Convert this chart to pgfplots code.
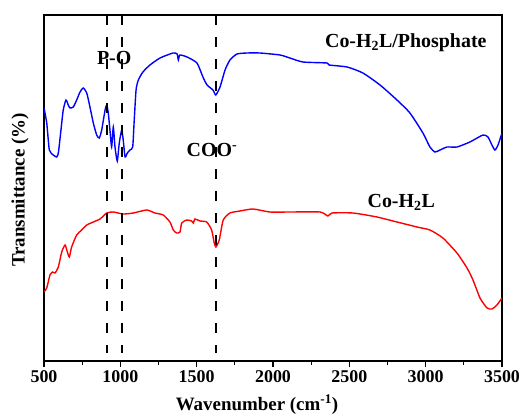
\documentclass[border=0pt]{standalone}
\usepackage{fontspec}
\setmainfont{Liberation Serif}
\usepackage{pgfplots}
\pgfplotsset{compat=1.18}

% traced spectra, y is the pixel row of the reference (axis uses y dir=reverse)
\pgfplotstableread{
w y
500 108
518 123
535 150
561 155
583 157
594 153
609 133
626 110
644 100
659 105
670 108
692 107
714 100
736 92
757 88
780 93
801 107
823 123
845 135
862 138
878 130
900 110
911 105
921 113
932 130
943 147
954 127
965 147
980 161
993 143
1009 130
1019 140
1031 157
1046 153
1063 150
1081 147
1090 123
1103 90
1118 80
1148 72
1194 65
1260 58
1345 53
1372 54
1380 60
1390 55
1437 57
1502 63
1541 77
1568 85
1607 90
1625 95
1653 87
1686 70
1718 60
1764 54
1830 53
1915 53
2046 55
2111 58
2196 62
2354 63
2367 65
2485 67
2589 73
2701 85
2812 100
2897 113
2982 133
3028 147
3061 152
3094 150
3140 147
3205 147
3290 142
3375 135
3408 137
3434 145
3454 150
3474 145
3500 133
}\phosphate

\pgfplotstableread{
w y
500 292
518 288
539 275
557 272
572 273
594 267
616 252
638 245
653 252
666 257
681 247
714 235
747 230
780 225
823 222
867 219
911 213
954 212
1019 214
1085 213
1173 210
1227 213
1281 215
1325 222
1347 230
1369 233
1391 232
1402 223
1435 220
1467 221
1478 223
1489 219
1522 221
1566 222
1598 230
1615 243
1626 247
1648 240
1674 220
1718 213
1784 211
1869 209
1980 212
2111 212
2308 212
2360 216
2386 213
2524 213
2681 217
2812 222
2943 227
3028 230
3113 238
3205 253
3271 268
3310 280
3356 298
3402 308
3434 309
3467 305
3500 298
}\ligand

\begin{document}
\begin{tikzpicture}
\useasboundingbox (-44bp,-55bp) rectangle (478bp,361bp);
\begin{axis}[
    scale only axis,
    width=458bp, height=346bp,
    xmin=500, xmax=3500,
    ymin=15, ymax=361, y dir=reverse,
    xtick={500,1000,...,3500},
    minor x tick num=1,
    ytick=\empty,
    xtick pos=bottom,
    tick align=outside,
    major tick length=6bp, minor tick length=4bp,
    axis line style={line width=1.2bp},
    every tick/.style={black, line width=1.2bp},
    /pgf/number format/assume math mode=true,
    /pgf/number format/1000 sep={},
    tick label style={font=\fontsize{18}{20}\selectfont\bfseries},
    ]

    \addplot[blue, line width=1.4bp, smooth, tension=0.35] table[x=w, y=y] {\phosphate};
    \addplot[red, line width=1.4bp, smooth, tension=0.35] table[x=w, y=y] {\ligand};

    % band markers
    \addplot[black, line width=2bp, dash pattern=on 10bp off 12bp] coordinates {(910,15) (910,353)};
    \addplot[black, line width=2bp, dash pattern=on 10bp off 12bp] coordinates {(1010,15) (1010,353)};
    \addplot[black, line width=2bp, dash pattern=on 10bp off 12bp] coordinates {(1625,15) (1625,353)};

    \node[font=\fontsize{20}{22}\selectfont\bfseries] at (axis cs:960,58) {P-O};
    \node[font=\fontsize{20}{22}\selectfont\bfseries] at (axis cs:1600,150) {COO\textsuperscript{-}};
    \node[font=\fontsize{20}{22}\selectfont\bfseries] at (axis cs:2870,43) {Co-H\textsubscript{2}L/Phosphate};
    \node[font=\fontsize{20}{22}\selectfont\bfseries] at (axis cs:2840,202) {Co-H\textsubscript{2}L};
\end{axis}
\node[font=\fontsize{19}{22}\selectfont\bfseries, anchor=base] at (213bp,-49bp) {Wavenumber (cm\textsuperscript{-1})};
\node[font=\fontsize{19}{22}\selectfont\bfseries, rotate=90] at (-24bp,171bp) {Transmittance (\%)};
\end{tikzpicture}
\end{document}
